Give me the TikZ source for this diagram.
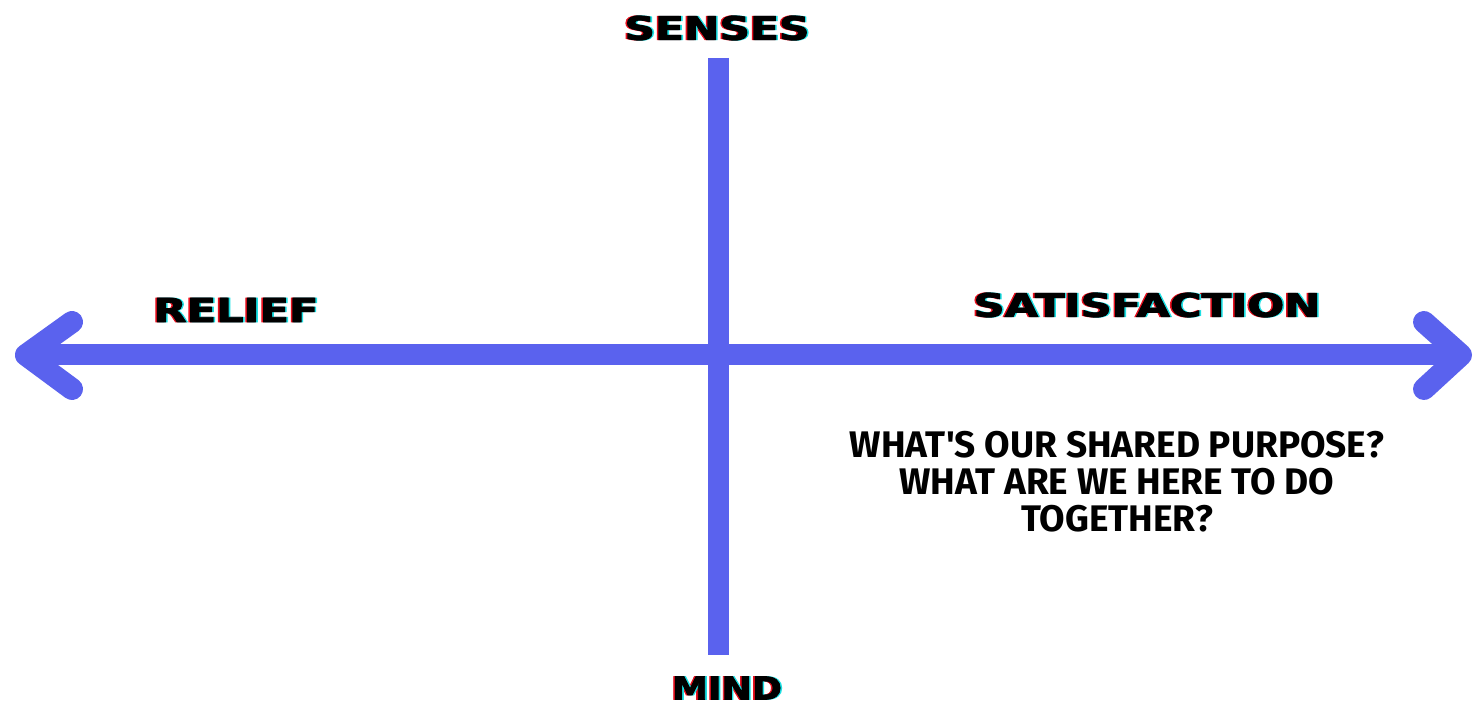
\documentclass[tikz,border=0pt]{standalone}
\usepackage{fontspec}
\usepackage{graphicx}
\setmainfont{DejaVu Sans}
\newfontfamily\questionfont{Fira Sans}
\newfontfamily\labelfont[FakeBold=2.5]{DejaVu Sans Bold}
\usetikzlibrary{positioning}
\definecolor{axisblue}{HTML}{5A62EE}
\definecolor{glitchred}{HTML}{E8101E}
\definecolor{glitchcyan}{HTML}{1CE0E4}
% black text with a red copy to the left and a cyan copy to the right
\newcommand{\glitchtext}[1]{\makebox[0pt][l]{\hspace{-0.8pt}\textcolor{glitchred}{#1}}\makebox[0pt][l]{\hspace{0.8pt}\textcolor{glitchcyan}{#1}}#1}
\newcommand{\axisword}[3]{\glitchtext{\resizebox{#2}{#3}{\labelfont #1}}}

\begin{document}
\begin{tikzpicture}[x=0.5pt,y=-0.5pt,
    axisline/.style={line width=10.5pt, color=axisblue},
    tipline/.style={line width=11pt, color=axisblue, line cap=round, line join=round},
    axistext/.style={inner sep=0pt, anchor=center},
    questiontext/.style={inner sep=0pt, align=center, font=\questionfont\bfseries\fontsize{18.5}{18.5}\selectfont}]
    \useasboundingbox[fill=white] (0,0) rectangle (1473,705);

    % axes
    \coordinate (top) at (718,58); \coordinate (bottom) at (718,655);
    \coordinate (west) at (26,355); \coordinate (east) at (1461,355);
    \draw[axisline] (top) -- (bottom);
    \draw[axisline] (west) -- (east);
    \draw[tipline] (72,322) -- (west) -- (72,389);
    \draw[tipline] (1424,322) -- (east) -- (1424,389);

    % labels
    \node[axistext] (senses) at (717,28) {\axisword{SENSES}{92.5pt}{12pt}};
    \node[axistext] (relief) at (236,310) {\axisword{RELIEF}{82.5pt}{12pt}};
    \node[axistext] (satisfaction) at (1147,305) {\axisword{SATISFACTION}{173.5pt}{12pt}};
    \node[axistext] (mind) at (727,688) {\axisword{MIND}{55pt}{11.5pt}};

    \node[questiontext] (purpose) at (1117,482) {WHAT'S OUR SHARED PURPOSE?\\WHAT ARE WE HERE TO DO\\TOGETHER?};
\end{tikzpicture}
\end{document}
